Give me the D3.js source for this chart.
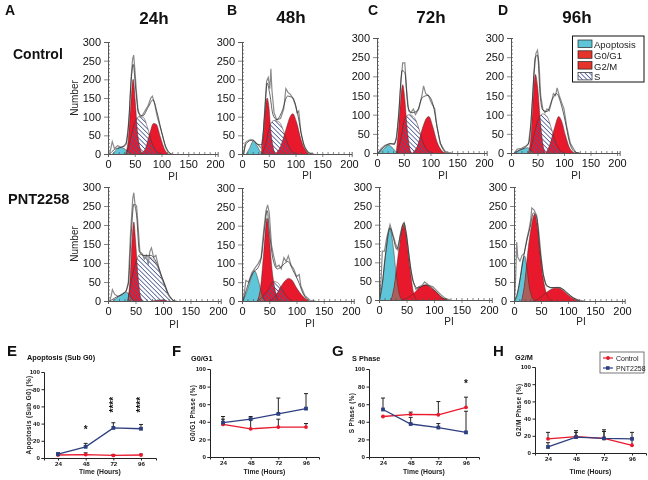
<!DOCTYPE html>
<html><head><meta charset="utf-8">
<script src="https://cdn.jsdelivr.net/npm/d3@7"></script>
<style>html,body{margin:0;padding:0;background:#fff}svg{display:block;filter:blur(.35px)}text{font-family:"Liberation Sans",Arial,sans-serif}</style>
</head><body><svg id="c" width="648" height="480"></svg>
<script>
// ---- flow-cytometry histograms: [PI, Number] points ----
const A_apop=[[8,0],[15,10],[22,18],[30,15],[38,5],[42,0]];
const A_g1=[[33,0],[38,40],[42,120],[47,200],[51,140],[55,60],[60,15],[65,0]];
const A_s=[[35,0],[42,40],[50,85],[58,100],[66,98],[74,70],[82,30],[90,8],[100,0]];
const A_g2=[[60,0],[70,15],[78,55],[85,82],[90,80],[98,45],[105,15],[112,0]];
const A_obs=[[3,0],[6,20],[8,33],[12,15],[18,22],[25,18],[30,22],[34,30],[37,60],[40,110],[43,200],[46,255],[48,265],[50,230],[53,170],[56,120],[60,100],[65,105],[70,118],[75,130],[80,150],[83,155],[87,135],[92,100],[97,75],[102,50],[107,20],[113,3],[120,0]];
const A_fit=[[3,0],[12,12],[25,18],[33,24],[38,70],[43,190],[47,240],[52,170],[57,110],[65,102],[75,125],[84,145],[92,110],[100,60],[108,20],[118,0]];

const B_apop=[[8,0],[14,15],[21,35],[28,22],[35,5],[40,0]];
const B_g1=[[36,0],[40,60],[44,125],[47,150],[50,130],[54,60],[58,20],[62,0]];
const B_s=[[38,0],[45,30],[52,75],[60,90],[70,85],[78,60],[86,25],[95,5],[105,0]];
const B_g2=[[62,0],[72,20],[82,65],[90,100],[95,108],[102,85],[110,40],[118,12],[126,0]];
const B_obs=[[3,0],[6,30],[10,35],[15,38],[22,35],[30,25],[36,15],[40,60],[43,130],[46,195],[49,205],[52,175],[54,228],[56,170],[60,110],[65,92],[72,95],[78,120],[82,175],[86,165],[90,160],[95,150],[100,130],[103,110],[106,115],[110,60],[116,20],[124,3],[135,0]];
const B_fit=[[3,0],[8,28],[20,38],[30,25],[37,25],[42,100],[47,190],[52,160],[58,105],[65,92],[75,115],[85,155],[95,150],[105,100],[112,45],[120,12],[130,0]];

const C_apop=[[3,0],[12,10],[22,20],[30,12],[36,3],[40,0]];
const C_g1=[[36,0],[40,60],[44,135],[48,178],[52,140],[56,70],[60,20],[64,0]];
const C_s=[[38,0],[45,40],[52,90],[60,100],[70,92],[78,65],[86,28],[95,6],[105,0]];
const C_g2=[[66,0],[76,20],[85,65],[93,92],[97,95],[104,70],[112,30],[120,8],[128,0]];
const C_obs=[[2,0],[8,12],[15,20],[25,25],[32,22],[37,40],[41,110],[45,190],[48,235],[52,235],[55,170],[59,110],[63,105],[68,115],[72,100],[78,115],[84,150],[87,175],[91,155],[96,150],[102,130],[108,115],[112,70],[118,25],[128,3],[140,0]];
const C_fit=[[2,0],[12,14],[25,24],[33,24],[40,90],[47,215],[52,210],[58,120],[65,105],[75,110],[85,145],[95,150],[105,125],[112,70],[120,20],[130,0]];

const D_apop=[[8,0],[15,6],[25,12],[32,14],[38,5],[42,0]];
const D_g1=[[33,0],[38,50],[42,150],[46,205],[50,175],[55,90],[60,25],[65,0]];
const D_s=[[36,0],[44,50],[52,90],[60,102],[68,95],[76,65],[84,28],[92,8],[102,0]];
const D_g2=[[66,0],[74,25],[82,65],[90,95],[95,85],[103,45],[110,15],[120,0]];
const D_obs=[[6,0],[12,10],[20,12],[28,18],[33,25],[38,80],[43,200],[47,260],[50,268],[53,230],[56,150],[60,115],[64,105],[68,115],[72,110],[76,130],[80,155],[84,150],[87,170],[91,150],[96,130],[100,115],[105,70],[112,25],[122,2],[130,0]];
const D_fit=[[6,0],[15,7],[28,16],[34,28],[40,130],[46,250],[50,255],[55,150],[60,112],[68,108],[78,140],[86,155],[94,130],[102,85],[110,30],[120,3],[128,0]];

const A2_apop=[[8,0],[16,8],[25,18],[33,23],[40,15],[45,3],[48,0]];
const A2_g1=[[36,0],[40,55],[44,165],[47,208],[50,160],[54,75],[58,20],[62,0]];
const A2_s=[[36,0],[42,50],[50,100],[58,122],[70,118],[80,112],[90,90],[100,50],[110,15],[118,0]];
const A2_g2=[[80,0],[92,2],[100,3],[108,0]];
const A2_obs=[[3,0],[6,15],[8,30],[12,18],[18,12],[25,18],[33,25],[37,50],[41,180],[45,270],[47,285],[49,255],[52,250],[55,190],[58,130],[62,125],[66,110],[70,120],[73,95],[76,130],[79,140],[83,115],[87,120],[92,90],[97,65],[103,45],[110,15],[118,2],[125,0]];
const A2_fit=[[3,0],[15,10],[30,22],[37,45],[42,170],[47,255],[52,225],[57,130],[65,120],[78,120],[90,95],[100,55],[110,18],[120,0]];

const B2_apop=[[2,0],[10,30],[17,62],[23,80],[30,55],[36,20],[42,0]];
const B2_g1=[[28,0],[34,35],[40,130],[46,220],[50,170],[55,85],[60,35],[66,0]];
const B2_s=[[28,0],[38,12],[48,30],[58,52],[66,48],[74,30],[82,12],[92,0]];
const B2_g2=[[50,0],[60,10],[70,35],[80,55],[85,60],[92,55],[100,35],[110,15],[122,0]];
const B2_obs=[[2,0],[5,30],[7,55],[12,50],[18,75],[25,90],[30,100],[35,115],[40,190],[44,240],[47,255],[50,235],[54,150],[58,120],[63,90],[68,95],[72,85],[77,115],[81,105],[85,120],[90,95],[95,85],[100,65],[105,70],[108,40],[115,15],[125,2],[135,0]];
const B2_fit=[[2,0],[8,30],[20,75],[30,90],[36,120],[42,200],[46,240],[51,175],[57,110],[65,85],[75,95],[84,105],[94,80],[104,50],[112,20],[124,0]];

const C2_apop=[[1,0],[6,40],[12,120],[20,190],[26,140],[32,60],[38,10],[42,0]];
const C2_g1=[[22,0],[28,40],[34,110],[40,175],[45,200],[50,165],[56,90],[62,25],[68,0]];
const C2_s=[];
const C2_g2=[[40,0],[55,8],[65,20],[75,35],[85,40],[95,32],[105,20],[115,6],[125,0]];
const C2_obs=[[1,0],[4,60],[6,130],[10,130],[14,165],[20,200],[25,175],[30,150],[35,130],[38,170],[42,195],[46,205],[50,175],[54,125],[58,80],[62,50],[67,28],[72,35],[78,38],[83,48],[90,40],[98,35],[105,25],[112,15],[120,5],[130,0]];
const C2_fit=[[1,0],[6,45],[12,125],[20,192],[26,165],[32,135],[38,165],[45,205],[50,170],[56,100],[62,50],[70,32],[85,40],[95,34],[105,20],[115,6],[125,0]];

const D2_apop=[[1,0],[6,15],[11,55],[16,105],[20,118],[24,85],[28,40],[33,10],[38,0]];
const D2_g1=[[14,0],[20,50],[26,135],[32,195],[38,228],[43,200],[48,130],[53,70],[58,30],[64,8],[72,0]];
const D2_s=[];
const D2_g2=[[36,0],[48,8],[58,20],[68,30],[78,35],[88,32],[98,20],[108,8],[120,0]];
const D2_obs=[[1,0],[3,60],[5,155],[7,115],[11,105],[15,120],[19,125],[24,165],[28,190],[31,215],[33,245],[37,240],[42,225],[46,180],[50,120],[54,70],[60,40],[68,35],[76,35],[85,35],[92,28],[100,18],[108,10],[118,3],[130,0]];
const D2_fit=[[1,0],[6,20],[12,65],[18,118],[24,160],[30,195],[36,232],[42,220],[48,135],[54,72],[60,42],[70,35],[80,36],[90,32],[100,20],[110,8],[122,0]];

// ---- time-course series ----
const times=[24,48,72,96];
const yTicks=[0,20,40,60,80,100];
const E_control=[3.5,4,3,3.5], E_controlUp=[4.5,6,4,4.5];
const E_pnt=[4.5,13,35,34],   E_pntUp=[6,17,41,39];
const F_control=[37,32,34,34], F_controlUp=[43,44,43,38];
const F_pnt=[39,43,49,55],     F_pntUp=[46,46,67,72];
const G_control=[46,48.5,48,56.5], G_controlUp=[46,51,63,68];
const G_pnt=[54,37.5,33.5,28],     G_pntUp=[67,45,38,52];
const H_control=[16.5,19,17,9], H_controlUp=[24,26,27,16];
const H_pnt=[7,18.5,17,16.5],   H_pntUp=[12,24,25,24];

const histTicks=[0,50,100,150,200], histYTicks=[0,50,100,150,200,250,300];
const legendA=["Apoptosis","G0/G1","G2/M","S"];
const legendB=["Control","PNT2258"];

const RED="#e8192c",CYAN="#5ec6d8",NAVY="#2e3f80",HATCH="#4a5a96";
const svg=d3.select("#c");
const defs=svg.append("defs");
const pat=defs.append("pattern").attr("id","hatch").attr("width",3.2).attr("height",3.2)
  .attr("patternUnits","userSpaceOnUse").attr("patternTransform","rotate(-45)");
pat.append("rect").attr("width",.8).attr("height",3.2).attr("fill",HATCH);

function txt(x,y,s,size,opt={}){
  const t=svg.append("text").attr("x",x).attr("y",y).text(s).attr("font-size",size)
    .attr("font-weight",opt.bold?"bold":"normal").attr("fill",opt.fill||"#111")
    .attr("text-anchor",opt.anchor||"start");
  if(opt.rot)t.attr("transform",`rotate(${opt.rot} ${x} ${y})`);
  if(opt.sp)t.attr("letter-spacing",opt.sp);
  return t;
}

const hist=[
 {id:"A",x0:108,x1:215,y0:154,y1:42,apop:A_apop,g1:A_g1,s:A_s,g2:A_g2,obs:A_obs,fit:A_fit,pi:[173,180],num:1},
 {id:"B",x0:242,x1:349,y0:154,y1:42,apop:B_apop,g1:B_g1,s:B_s,g2:B_g2,obs:B_obs,fit:B_fit,pi:[307,179]},
 {id:"C",x0:377,x1:484,y0:153,y1:38,apop:C_apop,g1:C_g1,s:C_s,g2:C_g2,obs:C_obs,fit:C_fit,pi:[443,179]},
 {id:"D",x0:511,x1:617,y0:153,y1:38,apop:D_apop,g1:D_g1,s:D_s,g2:D_g2,obs:D_obs,fit:D_fit,pi:[576,179]},
 {id:"A2",x0:108,x1:218,y0:301,y1:187,apop:A2_apop,g1:A2_g1,s:A2_s,g2:A2_g2,obs:A2_obs,fit:A2_fit,pi:[174,328],num:1},
 {id:"B2",x0:242,x1:351,y0:301,y1:188,apop:B2_apop,g1:B2_g1,s:B2_s,g2:B2_g2,obs:B2_obs,fit:B2_fit,pi:[310,327]},
 {id:"C2",x0:379,x1:489,y0:300,y1:187,apop:C2_apop,g1:C2_g1,s:C2_s,g2:C2_g2,obs:C2_obs,fit:C2_fit,pi:[449,325]},
 {id:"D2",x0:514,x1:622,y0:301,y1:187,apop:D2_apop,g1:D2_g1,s:D2_s,g2:D2_g2,obs:D2_obs,fit:D2_fit,pi:[581,325]}
];

hist.forEach(p=>{
  const x=d3.scaleLinear().domain([0,205]).range([p.x0,p.x0+(p.x1-p.x0)*1.025]);
  const y=d3.scaleLinear().domain([0,300]).range([p.y0,p.y1]);
  const g=svg.append("g");
  const area=d3.area().x(d=>x(d[0])).y0(y(0)).y1(d=>y(d[1])).curve(d3.curveMonotoneX);
  const line=d3.line().x(d=>x(d[0])).y(d=>y(d[1]));
  const cid="clip"+p.id;
  defs.append("clipPath").attr("id",cid).append("path").attr("d",area(p.g1));
  if(p.s.length)g.append("path").attr("d",area(p.s)).attr("fill","#fff");
  g.append("path").attr("d",area(p.apop)).attr("fill",CYAN);
  g.append("path").attr("d",area(p.g1)).attr("fill",RED);
  g.append("path").attr("d",area(p.g2)).attr("fill",RED);
  g.append("path").attr("d",area(p.apop)).attr("fill","#a8605c").attr("clip-path",`url(#${cid})`);
  if(p.s.length)g.append("path").attr("d",area(p.s)).attr("fill","url(#hatch)");
  [p.apop,p.g1,p.g2,p.s].forEach(c=>{ if(c.length)
    g.append("path").attr("d",line.curve(d3.curveMonotoneX)(c)).attr("fill","none").attr("stroke","#4a2a2a").attr("stroke-width",.5);});
  g.append("path").attr("d",line.curve(d3.curveLinear)(p.obs)).attr("fill","none").attr("stroke","#8a8a8a").attr("stroke-width",1.2);
  g.append("path").attr("d",line.curve(d3.curveMonotoneX)(p.fit)).attr("fill","none").attr("stroke","#222").attr("stroke-width",.7);
  // axes: major + minor comb
  const axY=svg.append("g").attr("transform",`translate(${p.x0},0)`).call(d3.axisLeft(y).tickValues(histYTicks).tickSize(4).tickFormat(d3.format("d")));
  const axYm=svg.append("g").attr("transform",`translate(${p.x0},0)`).call(d3.axisRight(y).tickValues(d3.range(0,301,10)).tickSize(2).tickFormat(""));
  const axX=svg.append("g").attr("transform",`translate(0,${p.y0})`).call(d3.axisBottom(x).tickValues(histTicks).tickSize(3).tickFormat(d3.format("d")).tickPadding(3));
  const axXm=svg.append("g").attr("transform",`translate(0,${p.y0})`).call(d3.axisTop(x).tickValues(d3.range(0,201,10)).tickSize(2).tickFormat(""));
  [axY,axX,axYm,axXm].forEach(a=>{a.selectAll("path").attr("stroke","#555").attr("stroke-width",.9);
    a.selectAll("line").attr("stroke","#555").attr("stroke-width",.7);
    a.selectAll("text").attr("font-family","Liberation Sans").attr("font-size",11).attr("fill","#111");});
  txt(p.pi[0],p.pi[1],"PI",10,{anchor:"middle",fill:"#222"});
  if(p.num)txt(78,(p.y0+p.y1)/2,"Number",10,{anchor:"middle",rot:-90,fill:"#222"});
});

// headings
[["A",5,15],["B",227,15],["C",368,15],["D",498,15]].forEach(d=>txt(d[1],d[2],d[0],14,{bold:1}));
[["24h",154,24],["48h",291,23],["72h",431,23],["96h",577,23]].forEach(d=>txt(d[1],d[2],d[0],17,{bold:1,anchor:"middle"}));
txt(13,59,"Control",14,{bold:1});
txt(8,204,"PNT2258",14.5,{bold:1});

// histogram legend
svg.append("rect").attr("x",572.5).attr("y",36).attr("width",71.5).attr("height",46).attr("fill","#fff").attr("stroke","#111").attr("stroke-width",1);
legendA.forEach((s,i)=>{
  const yy=40+i*10.8;
  svg.append("rect").attr("x",578).attr("y",yy).attr("width",14).attr("height",7.5).attr("fill",i==0?CYAN:i==3?"#fff":"#e5342a").attr("stroke","#222").attr("stroke-width",.7);
  if(i==3)svg.append("rect").attr("x",578).attr("y",yy).attr("width",14).attr("height",7.5).attr("fill","url(#hatch)");
  txt(594,yy+8,s,9.5,{fill:"#222"});
});

// time-course panels
const line2=[
 {L:"E",lx:7,ly:356,title:"Apoptosis (Sub G0)",tx:27,ty:360,yl:"Apoptosis (Sub G0) (%)",ylx:31,xl:44,xr:156,t0:58,t1:141,y0:458,y1:372,c:E_control,cu:E_controlUp,p:E_pnt,pu:E_pntUp},
 {L:"F",lx:172,ly:356,title:"G0/G1",tx:191,ty:361,yl:"G0/G1 Phase (%)",ylx:195,xl:210,xr:319,t0:223,t1:306,y0:457,y1:369,c:F_control,cu:F_controlUp,p:F_pnt,pu:F_pntUp},
 {L:"G",lx:332,ly:356,title:"S Phase",tx:352,ty:361,yl:"S Phase (%)",ylx:354,xl:369,xr:479,t0:383,t1:466,y0:457,y1:369,c:G_control,cu:G_controlUp,p:G_pnt,pu:G_pntUp},
 {L:"H",lx:493,ly:356,title:"G2/M",tx:515,ty:360,yl:"G2/M Phase (%)",ylx:521,xl:535,xr:646,t0:548,t1:632,y0:453,y1:367,c:H_control,cu:H_controlUp,p:H_pnt,pu:H_pntUp}
];
line2.forEach(d=>{
  const k=(d.t1-d.t0)/72;
  const x=d3.scaleLinear().domain([24-(d.t0-d.xl)/k,96+(d.xr-d.t1)/k]).range([d.xl,d.xr]);
  const y=d3.scaleLinear().domain([0,100]).range([d.y0,d.y1]);
  txt(d.lx,d.ly,d.L,15,{bold:1});
  txt(d.tx,d.ty,d.title,7.3,{bold:1});
  txt(d.ylx,(d.y0+d.y1)/2,d.yl,6.4,{bold:1,anchor:"middle",rot:-90,fill:"#222",sp:.35});
  txt((d.xl+d.xr)/2,474,"Time (Hours)",6.8,{bold:1,anchor:"middle",fill:"#222"});
  const ay=svg.append("g").attr("transform",`translate(${d.xl},0)`).call(d3.axisLeft(y).tickValues(yTicks).tickSize(2.5).tickPadding(1.5));
  const ax=svg.append("g").attr("transform",`translate(0,${d.y0})`).call(d3.axisBottom(x).tickValues(times).tickSize(2.5).tickPadding(1.5));
  [ay,ax].forEach(a=>{a.selectAll("path,line").attr("stroke","#222").attr("stroke-width",1);
    a.selectAll("text").attr("font-family","Liberation Sans").attr("font-size",6.2).attr("font-weight","bold").attr("fill","#111");});
  const ln=d3.line().x((v,i)=>x(times[i])).y(v=>y(v));
  [[d.c,d.cu],[d.p,d.pu]].forEach(([vals,ups])=>{
    vals.forEach((v,i)=>{
      const X=x(times[i]);
      svg.append("line").attr("x1",X).attr("x2",X).attr("y1",y(v)).attr("y2",y(ups[i])).attr("stroke","#222").attr("stroke-width",1);
      svg.append("line").attr("x1",X-2).attr("x2",X+2).attr("y1",y(ups[i])).attr("y2",y(ups[i])).attr("stroke","#222").attr("stroke-width",1);
    });
  });
  [[d.c,RED,"c"],[d.p,NAVY,"s"]].forEach(([vals,col,sh])=>{
    svg.append("path").attr("d",ln(vals)).attr("fill","none").attr("stroke",col).attr("stroke-width",1.3);
    vals.forEach((v,i)=>{
      if(sh=="c")svg.append("circle").attr("cx",x(times[i])).attr("cy",y(v)).attr("r",1.9).attr("fill",col);
      else svg.append("rect").attr("x",x(times[i])-1.9).attr("y",y(v)-1.9).attr("width",3.8).attr("height",3.8).attr("fill",col);
    });
  });
  d.sx=x;d.sy=y;
});
// significance marks
const E=line2[0],G=line2[2];
txt(E.sx(48),E.sy(29),"*",10,{bold:1,anchor:"middle"});
[72,96].forEach(t=>{ const X=E.sx(t)+3.5; txt(X,E.sy(62),"****",10,{bold:1,anchor:"middle",rot:-90}); });
txt(G.sx(96),G.sy(79),"*",10,{bold:1,anchor:"middle"});

// line legend
svg.append("rect").attr("x",600).attr("y",352).attr("width",44).attr("height",21).attr("fill","#fff").attr("stroke","#555").attr("stroke-width",.8);
legendB.forEach((s,i)=>{
  const yy=358+i*10, col=i?NAVY:RED;
  svg.append("line").attr("x1",603).attr("x2",613).attr("y1",yy).attr("y2",yy).attr("stroke",col).attr("stroke-width",1.2);
  if(i)svg.append("rect").attr("x",606).attr("y",yy-1.8).attr("width",3.6).attr("height",3.6).attr("fill",col);
  else svg.append("circle").attr("cx",608).attr("cy",yy).attr("r",1.9).attr("fill",col);
  txt(616,yy+2.5,s,7,{fill:"#222"});
});
</script></body></html>
